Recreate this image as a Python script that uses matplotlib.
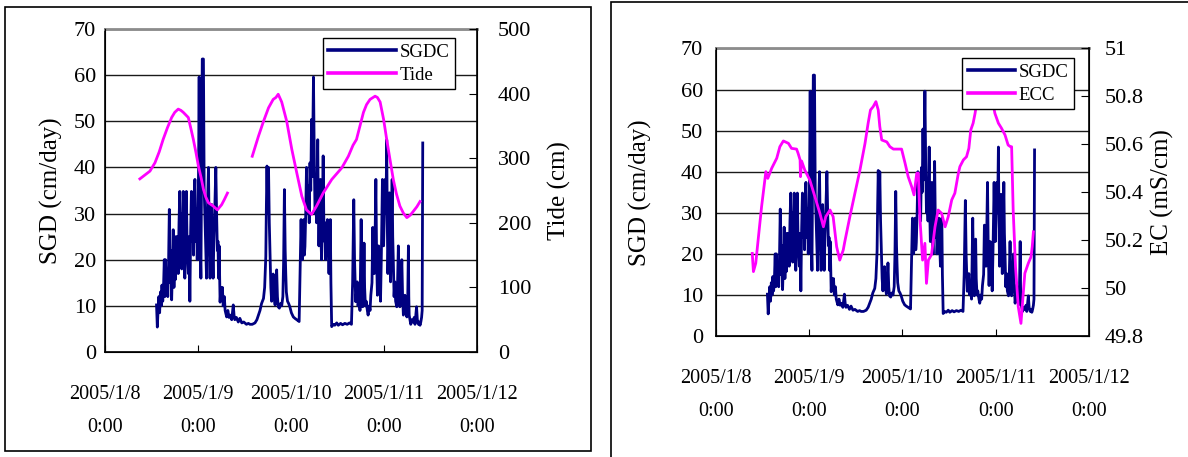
import numpy as np
import matplotlib
matplotlib.use("Agg")
import matplotlib.pyplot as plt
from matplotlib.patches import Rectangle
from matplotlib.ticker import FuncFormatter, MultipleLocator

plt.rcParams['font.family'] = ['Liberation Serif', 'DejaVu Serif']

# all times are hours after 2005/1/8 0:00
sgdc_hours = [13.3, 13.5, 13.7, 13.9, 14.1, 14.3, 14.5, 14.7, 14.9, 15.1,
              15.3, 15.45, 15.6, 15.8, 16.0, 16.2, 16.4, 16.6, 16.8, 17.0,
              17.2, 17.4, 17.6, 17.8, 18.0, 18.15, 18.3, 18.5, 18.7, 18.9,
              19.1, 19.3, 19.45, 19.6, 19.8, 20.0, 20.2, 20.4, 20.6, 20.8,
              21.0, 21.2, 21.5, 21.7, 21.9, 22.1, 22.3, 22.5, 22.7, 22.85,
              23.0, 23.2, 23.4, 23.6, 23.8, 24.0, 24.15, 24.3, 24.45, 24.6,
              24.75, 24.9, 25.1, 25.4, 25.6, 25.8, 26.0, 26.2, 26.4, 26.7,
              26.9, 27.1, 27.3, 27.5, 27.7, 27.9, 28.1, 28.3, 28.6, 28.8,
              29.0, 29.15, 29.3, 29.45, 29.7, 29.9, 30.1, 30.3, 30.5, 30.8,
              31.0, 31.4, 31.7, 32.0, 32.3, 32.7, 33.1, 33.3, 33.5, 33.9,
              34.4, 34.8, 35.3, 35.8, 36.5, 37.0, 37.4, 38.0, 38.7, 39.2,
              39.6, 40.0, 40.4, 40.9, 41.2, 41.5, 41.65, 41.8, 42.0, 42.2,
              42.4, 42.6, 42.8, 43.0, 43.2, 43.4, 43.6, 43.9, 44.1, 44.3,
              44.5, 44.7, 45.0, 45.3, 45.6, 45.9, 46.1, 46.3, 46.5, 46.65,
              46.8, 47.1, 47.4, 47.7, 48.1, 48.6, 49.0, 49.5, 49.8, 50.1,
              50.3, 50.6, 50.75, 50.9, 51.1, 51.3, 51.45, 51.6, 51.8, 52.0,
              52.2, 52.5, 52.7, 52.9, 53.1, 53.3, 53.5, 53.8, 54.0, 54.2,
              54.4, 54.6, 54.9, 55.05, 55.2, 55.4, 55.6, 55.75, 55.9, 56.1,
              56.3, 56.45, 56.6, 56.75, 56.9, 57.1, 57.4, 57.6, 57.8, 58.0,
              58.15, 58.3, 58.5, 58.9, 59.3, 59.8, 60.2, 60.8, 61.3, 61.9,
              62.5, 63.1, 63.6, 63.9, 64.2, 64.4, 64.7, 64.9, 65.1, 65.3,
              65.6, 65.8, 66.1, 66.3, 66.5, 66.7, 66.85, 67.0, 67.2, 67.4,
              67.7, 67.9, 68.2, 68.4, 68.6, 68.9, 69.1, 69.3, 69.5, 69.7,
              69.9, 70.1, 70.3, 70.45, 70.6, 70.8, 71.0, 71.1, 71.3, 71.6,
              71.75, 71.9, 72.1, 72.3, 72.5, 72.7, 72.85, 73.0, 73.2, 73.4,
              73.55, 73.7, 73.9, 74.1, 74.25, 74.4, 74.6, 74.8, 75.0, 75.3,
              75.5, 75.7, 75.9, 76.1, 76.3, 76.6, 76.8, 77.0, 77.2, 77.4,
              77.6, 77.9, 78.1, 78.3, 78.4, 78.5, 78.7, 78.9, 79.2, 79.4,
              79.6, 79.8, 80.0, 80.2, 80.4, 80.6, 80.9, 81.1, 81.3, 81.5,
              81.7, 81.85, 82.0]
sgdc = [10.2, 5.4, 9, 12, 8.5, 13, 10, 14.5, 11, 14,
        20, 12, 20, 14, 17, 12, 19, 30.9, 15, 22,
        11.3, 18, 26.5, 14, 22, 15.7, 25, 19, 25, 17,
        28, 34.8, 20, 30, 18, 27, 34.8, 21, 16, 28,
        34.8, 22, 17, 25, 11, 26, 34.8, 24, 30, 21,
        33, 37.4, 24, 31, 20, 30, 40, 59.6, 30, 22,
        16, 35, 63.5, 63.5, 35, 29, 22, 16, 30, 40,
        25, 16, 25, 32, 22, 16, 24, 30, 40, 30,
        22, 24, 16, 23, 10.8, 14, 12, 14, 10, 12,
        9, 7.6, 9, 7.5, 8, 7, 10.2, 8, 7, 7.5,
        6.5, 7.3, 6.3, 6.5, 6, 6.2, 6, 6, 6.3, 7,
        8, 9, 10.5, 11.6, 14, 20.7, 32, 40.3, 30, 40,
        28, 20.7, 14, 11, 14, 16.9, 12, 10.2, 13, 17.8,
        12, 9.8, 9.5, 10.5, 10, 12, 20, 35.2, 22, 17,
        13, 11, 10.5, 9.8, 8.5, 7.6, 7.3, 7, 6.8, 6.6,
        15, 28.7, 22, 20, 24, 28.7, 21, 22.9, 30, 40,
        30, 36, 28, 41, 35, 50.4, 38, 59.6, 42.5, 30,
        33, 28, 46, 30, 23, 30, 37.4, 24, 20, 30,
        42.5, 30, 24, 28, 20, 24, 28.7, 22, 17, 22,
        28.7, 15, 5.5, 6, 5.8, 6.3, 5.8, 6.2, 5.9, 6.2,
        6, 6.3, 6, 15, 33, 20, 10.9, 13, 15.2, 10,
        12.3, 9, 28.7, 15, 9.8, 14, 23.6, 14, 10, 11,
        9, 8, 10, 9, 12.3, 15, 27, 20, 17, 25,
        37.4, 20, 12.3, 18, 23, 15, 20, 11, 20, 37.4,
        28, 23, 30, 37.4, 30, 46, 28, 17, 25, 34.5,
        22, 15.2, 25, 37.4, 25, 20, 12, 15.2, 11, 9.8,
        15, 23, 14, 9.8, 13, 20, 12, 8, 10, 12.3,
        9, 7.6, 10, 23, 12, 8, 7, 6, 7, 6.5,
        6.6, 7.5, 6, 8, 9.8, 7, 6, 6.5, 5.8, 6.5,
        7.5, 9, 45.3]

# None marks the gap in the tide record
tide_hours = [9.0, 10.3, 11.6, 12.9, 14.0, 15.0, 16.1, 17.2, 18.0, 18.9, 19.6, 20.2, 21.5, 22.2,
              22.8, 23.5, 24.1, 24.8, 25.4, 26.0, 26.7, 27.9, 29.0, 30.1, 30.8, 31.6, 35.0,
              38.0, 39.6, 40.9, 42.2, 43.4, 44.1, 44.7, 45.6, 46.9, 48.2, 49.5, 50.8, 52.0,
              53.3, 54.6, 56.3, 58.5, 61.1, 62.8, 64.0, 64.9, 65.8, 66.7, 67.5, 68.4, 69.7,
              70.3, 71.0, 71.9, 72.7, 73.6, 74.4, 75.2, 76.1, 77.0, 77.9, 78.8, 79.6, 80.5, 81.3]
tide = [268, 274, 280, 293, 310, 329, 347, 363, 371, 376, 374, 371, 363, 345,
        329, 308, 288, 270, 252, 240, 231, 226, 220, 228, 236, 246, None,
        303, 334, 357, 378, 391, 394, 399, 387, 357, 314, 277, 241, 220,
        213, 226, 246, 267, 285, 303, 320, 329, 350, 371, 383, 391, 396,
        394, 387, 360, 329, 296, 267, 245, 226, 215, 208, 212, 218, 225, 233]

ec_hours = [9.4, 9.7, 10.3, 11.0, 11.8, 12.9, 13.4, 14.4, 15.7, 16.5, 17.4, 18.7, 19.5, 20.8,
            21.2, 21.7, 21.8, 22.1, 22.9, 24.2, 25.5, 26.8, 27.7, 28.3, 29.4, 30.2, 31.1, 31.9,
            32.8, 33.2, 34.5, 35.8, 37.1, 38.4, 39.2, 39.8, 40.5, 41.2, 41.8, 42.2, 42.7, 44.0,
            44.8, 45.7, 47.0, 47.8, 48.7, 49.5, 50.4, 51.0, 51.7, 52.1, 52.5, 53.2, 53.8, 54.2,
            54.7, 55.5, 56.4, 57.2, 58.1, 59.0, 59.8, 60.7, 61.5, 62.4, 62.8, 63.7, 64.5, 65.1,
            65.6, 66.2, 66.7, 67.5, 68.5, 69.5, 70.5, 71.2, 71.8, 72.7, 73.5, 74.4, 75.2, 75.8,
            76.1, 76.5, 77.1, 77.8, 78.5, 79.1, 79.5, 80.4, 81.1, 81.4, 81.7]
ec = [50.145, 50.069, 50.104, 50.215, 50.34, 50.486, 50.458, 50.50, 50.542, 50.59, 50.614, 50.604,
      50.583, 50.58, 50.562, 50.535, 50.465, 50.53, 50.493, 50.451, 50.382, 50.312, 50.256, 50.298,
      50.326, 50.298, 50.173, 50.117, 50.159, 50.194, 50.298, 50.396, 50.493, 50.604, 50.688, 50.743,
      50.757, 50.778, 50.743, 50.674, 50.618, 50.61, 50.59, 50.58, 50.58, 50.58, 50.521, 50.465,
      50.423, 50.389, 50.479, 50.48, 50.298, 50.117, 50.187, 50.02, 50.117, 50.14, 50.256, 50.326,
      50.312, 50.256, 50.298, 50.368, 50.396, 50.479, 50.507, 50.535, 50.548, 50.583, 50.66, 50.688,
      50.729, 50.813, 50.84, 50.85, 50.82, 50.78, 50.729, 50.688, 50.667, 50.639, 50.597, 50.59,
      50.59, 50.326, 50.09, 49.923, 49.853, 49.979, 50.062, 50.104, 50.131, 50.173, 50.235]

day_ticks = [0, 24, 48, 72, 96]
day_labels = ['2005/1/8\n0:00', '2005/1/9\n0:00', '2005/1/10\n0:00', '2005/1/11\n0:00', '2005/1/12\n0:00']

NAVY = '#000080'
MAGENTA = '#FF00FF'
W, H = 1188, 457


def make_panel(rect, right_vals, right_lim, right_step, right_name, right_label,
               pads, label_x, legend_at, handle_len):
    ax = fig.add_axes(rect)
    ax.plot(sgdc_hours, sgdc, color=NAVY, lw=2.0, label='SGDC')
    ax.set_xlim(0, 96)
    ax.set_ylim(0, 70)
    ax.yaxis.set_major_locator(MultipleLocator(10))
    ax.grid(axis='y', color='0.1', lw=1.0)
    ax.set_axisbelow(True)
    ax.set_xticks(day_ticks)
    ax.set_xticklabels(day_labels, linespacing=2.0)
    ax.tick_params(axis='x', direction='in', length=5, pad=pads[0], labelsize=14.5)
    ax.tick_params(axis='y', direction='in', length=0, pad=pads[1], labelsize=16)
    ax.set_ylabel('SGD (cm/day)', fontsize=18)
    ax.yaxis.set_label_coords(label_x[0], 0.5)
    ax.spines['top'].set_color('0.55')
    ax.spines['top'].set_linewidth(2.0)
    for s in ['left', 'bottom']:
        ax.spines[s].set_linewidth(1.2)

    ax2 = ax.twinx()
    rh, rv = right_vals
    rv = [np.nan if v is None else v for v in rv]
    ax2.plot(rh, rv, color=MAGENTA, lw=2.0, label=right_name)
    ax2.set_ylim(*right_lim)
    ax2.yaxis.set_major_locator(MultipleLocator(right_step))
    ax2.yaxis.set_major_formatter(FuncFormatter(lambda v, p: '%g' % round(v, 2)))
    ax2.tick_params(axis='y', direction='in', length=6, pad=pads[2], labelsize=16)
    ax2.set_ylabel(right_label, fontsize=18)
    ax2.yaxis.set_label_coords(label_x[1], 0.5)
    ax2.spines['top'].set_visible(False)
    ax2.spines['right'].set_linewidth(1.2)

    h1, l1 = ax.get_legend_handles_labels()
    h2, l2 = ax2.get_legend_handles_labels()
    leg = ax2.legend(h1 + h2, l1 + l2, loc='upper right', bbox_to_anchor=legend_at,
                     bbox_transform=fig.transFigure, fontsize=13.5, fancybox=False,
                     framealpha=1, edgecolor='black', handlelength=handle_len, handletextpad=0.2,
                     borderpad=0.3, labelspacing=0.3, borderaxespad=0)
    leg.get_frame().set_linewidth(1.0)
    for line in leg.get_lines():
        line.set_linewidth(2.6)
    return ax, ax2


fig = plt.figure(figsize=(W / 100, H / 100), dpi=100)

# panel borders
fig.patches.append(Rectangle((5 / W, 1 - 451 / H), 586 / W, 444 / H, transform=fig.transFigure,
                             fill=False, edgecolor='black', lw=1.2))
fig.patches.append(Rectangle((611 / W, -0.05), 0.6, 1.05 - 1.5 / H, transform=fig.transFigure,
                             fill=False, edgecolor='black', lw=1.2))

make_panel([105 / W, 1 - 352 / H, 372 / W, 323 / H], (tide_hours, tide), (0, 500), 100,
           'Tide', 'Tide (cm)', (24, 6.5, 15), (-0.113, 1.19), (455 / W, 1 - 38 / H), 3.6)
make_panel([715.7 / W, 1 - 336.1 / H, 373.3 / W, 287.7 / H], (ec_hours, ec), (49.8, 51), 0.2,
           'ECC', 'EC (mS/cm)', (24, 9, 11), (-0.17, 1.165), (1074 / W, 1 - 58 / H), 2.5)

fig.savefig('out.png', dpi=100)
